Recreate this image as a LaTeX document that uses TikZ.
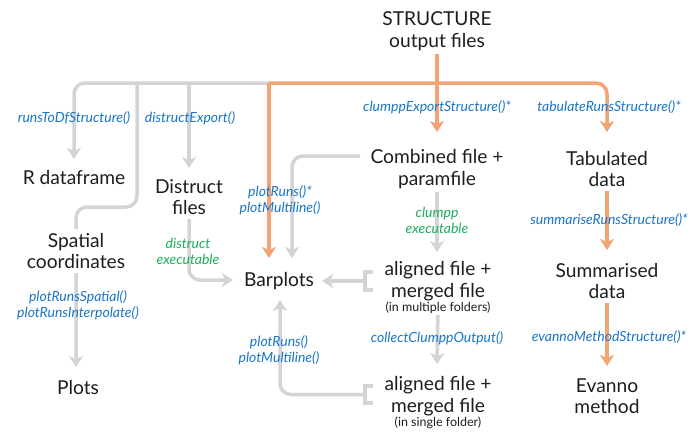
\documentclass[tikz,border=0pt]{standalone}
\usepackage{fontspec}
\setmainfont{Lato}
\usetikzlibrary{arrows.meta,backgrounds}
\definecolor{lgray}{HTML}{D3D4D7}
\definecolor{lorange}{HTML}{F3A475}
\definecolor{fblue}{HTML}{1A76C6}
\definecolor{fgreen}{HTML}{1AAF5D}
\definecolor{ink}{HTML}{1E1E1E}
\tikzset{
  box/.style={font=\fontsize{19.2}{21.5}\selectfont, text=ink, align=center, fill=white, inner xsep=5pt, inner ysep=4pt},
  smallnote/.style={font=\fontsize{12.5}{14}\selectfont, text=ink, fill=white, inner xsep=3pt, inner ysep=1.5pt},
  fn/.style={font=\fontsize{14}{16}\selectfont\itshape, text=fblue, align=center, inner sep=0pt},
  exe/.style={fn, text=fgreen},
  gline/.style={draw=lgray, line width=3.5pt, rounded corners=11pt},
  oline/.style={draw=lorange, line width=3.5pt, rounded corners=11pt},
  arr/.style={-{Stealth[length=11pt,width=14pt,inset=3pt]}},
}
\begin{document}
\begin{tikzpicture}[x=1pt,y=-1pt]
\useasboundingbox (0,0) rectangle (700,447);
% main nodes
\node[box] (struct) at (437,31) {STRUCTURE\\output files};
\node[box] (rdf) at (74,178) {R dataframe};
\node[box] (distruct) at (189,197) {Distruct\\files};
\node[box] (combined) at (437,169) {Combined file +\\paramfile};
\node[box] (tab) at (607,169) {Tabulated\\data};
\node[box] (spatial) at (76,251) {Spatial\\coordinates};
\node[box] (barplots) at (279,281) {Barplots};
\node[box] (alignedM) at (438,281) {aligned file +\\merged file};
\node[smallnote] (alignedMnote) at (438,308) {(in multiple folders)};
\node[box] (summ) at (607,281) {Summarised\\data};
\node[box] (plots) at (78,387) {Plots};
\node[box] (alignedS) at (438,396) {aligned file +\\merged file};
\node[smallnote] (alignedSnote) at (438,423) {(in single folder)};
\node[box] (evanno) at (607,396) {Evanno\\method};
% function labels
\node[fn] (lrtd) at (74,118) {runsToDfStructure()};
\node[fn] (ldex) at (190,118) {distructExport()};
\node[fn] (lcex) at (437,107) {clumppExportStructure()*};
\node[fn] (ltrs) at (609,107) {tabulateRunsStructure()*};
\node[fn] (lpr1) at (280,200) {plotRuns()*\\plotMultiline()};
\node[exe] (ldistr) at (188,251) {distruct\\executable};
\node[exe] (lclumpp) at (437,220) {clumpp\\executable};
\node[fn] (lsrs) at (609,220) {summariseRunsStructure()*};
\node[fn] (lprs) at (78,305) {plotRunsSpatial()\\plotRunsInterpolate()};
\node[fn] (lpr2) at (279,350) {plotRuns()\\plotMultiline()};
\node[fn] (lcco) at (437,338) {collectClumppOutput()};
\node[fn] (lems) at (609,337) {evannoMethodStructure()*};
% junctions and arrow ends
\coordinate (hub) at (269,83);
\coordinate (spl) at (137,83);
\coordinate (dsp) at (189,83);
\coordinate (splbend) at (137,207);
\coordinate (rdfIn) at (74,159);
\coordinate (distructIn) at (189,168);
\coordinate (plotsIn) at (76,367);
\coordinate (combIn) at (437,132);
\coordinate (tabIn) at (607,132);
\coordinate (barTopO) at (269,258);
\coordinate (barTopG) at (292,258);
\coordinate (barLeft) at (233,280);
\coordinate (barRight) at (322,281);
\coordinate (barBottom) at (280,300);
\coordinate (amIn) at (437,252);
\coordinate (asIn) at (437,364);
\coordinate (summIn) at (607,250);
\coordinate (evIn) at (607,366);
\coordinate (bracketM) at (365,281);
\coordinate (bracketS) at (365,394.5);
\coordinate (combOut) at (360,156);
\begin{scope}[on background layer]
\fill[white] (0,0) rectangle (700,447);
% gray connectors
\draw[gline,arr] (hub) -| (rdfIn);
\draw[gline,arr] (spl) -- (splbend) -| (plotsIn);
\draw[gline,arr] (dsp) -- (distructIn);
\draw[gline,arr] (distruct.center) |- (barLeft);
\draw[gline,arr] (combOut) -| (barTopG);
\draw[gline,rounded corners=0pt] ([xshift=8pt]bracketM |- 0,272) -- (bracketM |- 0,272) -- (bracketM |- 0,290) -- ([xshift=8pt]bracketM |- 0,290);
\draw[gline,arr] (bracketM) -- (barRight);
\draw[gline,rounded corners=0pt] ([xshift=8pt]bracketS |- 0,386) -- (bracketS |- 0,386) -- (bracketS |- 0,403) -- ([xshift=8pt]bracketS |- 0,403);
\draw[gline,arr] (bracketS) -| (barBottom);
\draw[gline,arr] (combined.center) -- (amIn);
\draw[gline,arr] (alignedMnote.center) -- (asIn);
% orange connectors
\draw[oline,arr] (struct.center) -- (combIn);
\draw[oline,arr] (hub) -| (tabIn);
\draw[oline,arr] (hub) -- (barTopO);
\draw[oline,arr] (tab.center) -- (summIn);
\draw[oline,arr] (summ.center) -- (evIn);
\end{scope}
\end{tikzpicture}
\end{document}
